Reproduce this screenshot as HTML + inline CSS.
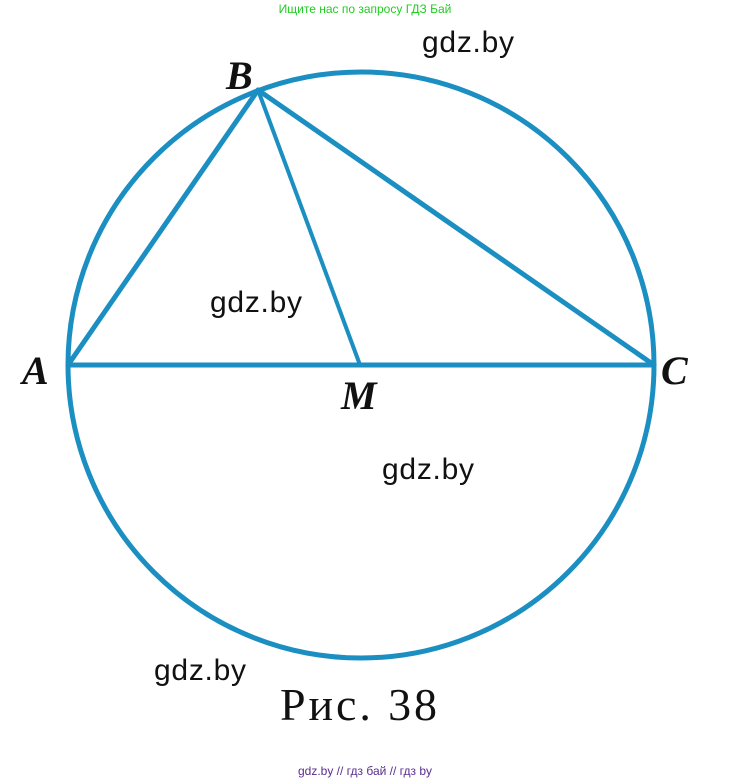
<!DOCTYPE html>
<html><head><meta charset="utf-8"><style>
html,body{margin:0;padding:0;background:#fff;width:730px;height:781px;overflow:hidden}
</style></head><body>
<svg width="730" height="781" viewBox="0 0 730 781" xmlns="http://www.w3.org/2000/svg">
<text x="365" y="13" font-family="Liberation Sans, sans-serif" font-size="12" fill="#22cc22" text-anchor="middle">Ищите нас по запросу ГДЗ Бай</text>
<g fill="none" stroke="#1b8ec2" stroke-width="5" stroke-linecap="round" stroke-linejoin="round">
<ellipse cx="361" cy="365" rx="293" ry="293"/>
<line x1="68" y1="365" x2="654" y2="365"/>
<line x1="68" y1="365" x2="258" y2="90"/>
<line x1="258" y1="90" x2="654" y2="365"/>
</g>
<line x1="258" y1="90" x2="360" y2="365" stroke="#1b8ec2" stroke-width="4"/>
<g font-family="Liberation Serif, serif" font-style="italic" font-weight="bold" font-size="40" fill="#111">
<text x="226" y="89">B</text>
<text x="22" y="384">A</text>
<text x="661" y="384">C</text>
<text x="341" y="409">M</text>
</g>
<g font-family="Liberation Sans, sans-serif" font-size="30" fill="#111">
<text x="422" y="52" textLength="92">gdz.by</text>
<text x="210" y="312" textLength="92">gdz.by</text>
<text x="382" y="479" textLength="92">gdz.by</text>
<text x="154" y="680" textLength="92">gdz.by</text>
</g>
<text x="280" y="720" font-family="Liberation Serif, serif" font-size="46" fill="#111" textLength="157">Рис. 38</text>
<text x="365" y="775" font-family="Liberation Sans, sans-serif" font-size="12" fill="#5a2d91" text-anchor="middle">gdz.by  //  гдз бай  //  гдз by</text>
</svg>
</body></html>
